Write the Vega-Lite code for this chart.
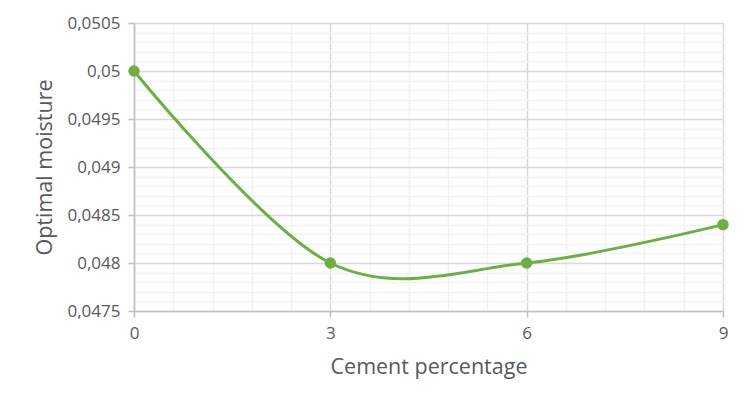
{
  "$schema": "https://vega.github.io/schema/vega-lite/v6.json",
  "width": 589,
  "height": 288,
  "autosize": {"type": "none"},
  "padding": {"left": 134, "top": 23, "right": 29, "bottom": 97},
  "background": "white",
  "config": {
    "view": {"stroke": null},
    "axis": {
      "labelFont": "Open Sans",
      "titleFont": "Open Sans",
      "labelColor": "#595959",
      "titleColor": "#595959",
      "labelFontSize": 17,
      "titleFontSize": 21.5,
      "titleFontWeight": "normal",
      "labelFlush": false
    }
  },
  "data": {
    "values": [
      {"cement": 0, "moisture": 0.05},
      {"cement": 3, "moisture": 0.048},
      {"cement": 6, "moisture": 0.048},
      {"cement": 9, "moisture": 0.0484}
    ]
  },
  "layer": [
    {
      "mark": {"type": "line", "interpolate": "cardinal", "tension": 0, "color": "#70ad47", "strokeWidth": 3},
      "encoding": {
        "x": {
          "field": "cement", "type": "quantitative",
          "scale": {"domain": [0, 9], "nice": false, "zero": false},
          "axis": {
            "orient": "bottom",
            "values": [0.6, 1.2, 1.8, 2.4, 3.6, 4.2, 4.8, 5.4, 6.6, 7.2, 7.8, 8.4],
            "grid": true, "gridColor": "#f2f2f2", "gridWidth": 1.5,
            "labels": false, "ticks": false, "domain": false, "title": null
          }
        },
        "y": {
          "field": "moisture", "type": "quantitative",
          "scale": {"domain": [0.0475, 0.0505], "nice": false, "zero": false},
          "axis": {
            "orient": "left",
            "values": [0.0476, 0.0477, 0.0478, 0.0479, 0.0481, 0.0482, 0.0483, 0.0484, 0.0486, 0.0487, 0.0488, 0.0489, 0.0491, 0.0492, 0.0493, 0.0494, 0.0496, 0.0497, 0.0498, 0.0499, 0.0501, 0.0502, 0.0503, 0.0504],
            "grid": true, "gridColor": "#f2f2f2", "gridWidth": 1.5,
            "labels": false, "ticks": false, "domain": false, "title": null
          }
        }
      }
    },
    {
      "mark": {"type": "point", "filled": true, "opacity": 1, "size": 130, "color": "#70ad47"},
      "encoding": {
        "x": {
          "field": "cement", "type": "quantitative",
          "scale": {"domain": [0, 9], "nice": false, "zero": false},
          "axis": {
            "orient": "bottom",
            "values": [0, 3, 6, 9],
            "grid": true, "gridColor": "#d9d9d9", "gridWidth": 1.5,
            "domainColor": "#bfbfbf", "domainWidth": 1.5,
            "tickColor": "#bfbfbf", "tickWidth": 1.5, "tickSize": 6,
            "labelPadding": 8,
            "title": "Cement percentage", "titlePadding": 15
          }
        },
        "y": {
          "field": "moisture", "type": "quantitative",
          "scale": {"domain": [0.0475, 0.0505], "nice": false, "zero": false},
          "axis": {
            "orient": "left",
            "values": [0.0475, 0.048, 0.0485, 0.049, 0.0495, 0.05, 0.0505],
            "grid": true, "gridColor": "#d9d9d9", "gridWidth": 1.5,
            "domainColor": "#bfbfbf", "domainWidth": 1.5,
            "tickColor": "#bfbfbf", "tickWidth": 1.5, "tickSize": 6,
            "labelPadding": 8,
            "labelExpr": "replace(format(datum.value, '.4~f'), '.', ',')",
            "title": "Optimal moisture", "titlePadding": 10
          }
        }
      }
    }
  ],
  "resolve": {"axis": {"x": "independent", "y": "independent"}}
}
